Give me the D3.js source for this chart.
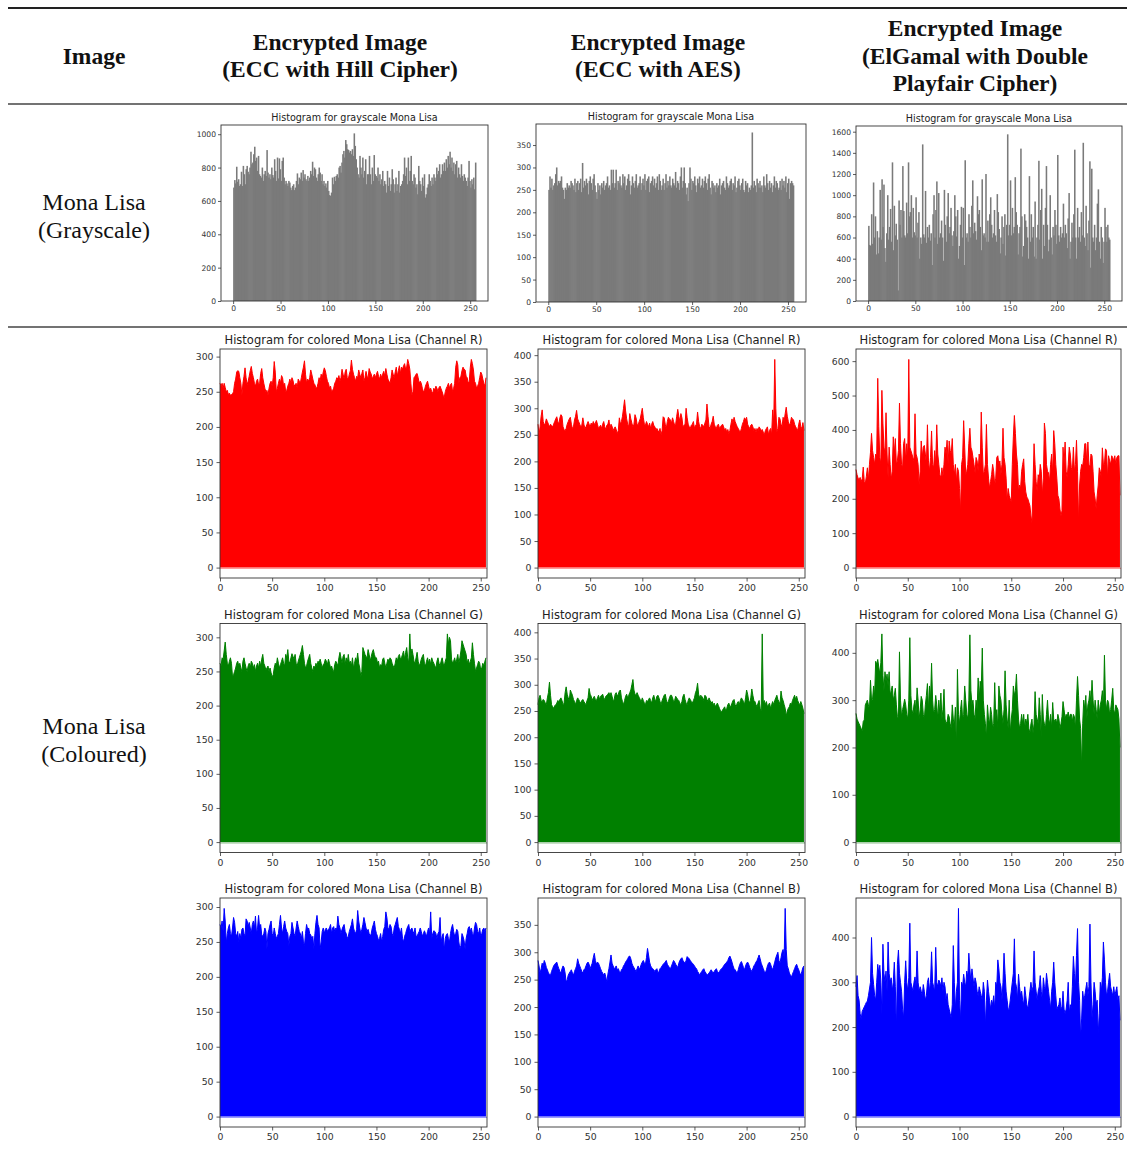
<!DOCTYPE html>
<html>
<head>
<meta charset="utf-8" />
<title>Histograms of the encrypted Mona Lisa</title>
<style>
  body { margin: 0; background: #fff; }
  #fig svg { display: block; }
  .hdr { font-family: "Liberation Serif", "Times New Roman", serif; font-weight: bold; font-size: 23.5px; fill: #111; }
  .lbl { font-family: "Liberation Serif", "Times New Roman", serif; font-size: 24px; fill: #111; }
  .ttl { font-family: "DejaVu Sans", sans-serif; fill: #222; }
  .tick text { font-family: "DejaVu Sans", sans-serif; fill: #333; }
  .tick line { stroke: #333; }
</style>
</head>
<body>
<div id="fig"></div>
<script src="https://cdnjs.cloudflare.com/ajax/libs/d3/7.8.5/d3.min.js"></script>
<script>
// ---- table text ----
var colHeaders = [
  ["Image"],
  ["Encrypted Image", "(ECC with Hill Cipher)"],
  ["Encrypted Image", "(ECC with AES)"],
  ["Encrypted Image", "(ElGamal with Double", "Playfair Cipher)"]
];
var rowLabels = [["Mona Lisa", "(Grayscale)"], ["Mona Lisa", "(Coloured)"]];
var grayTitle = "Histogram for grayscale Mona Lisa";
var colorTitles = ["Histogram for colored Mona Lisa (Channel R)",
                   "Histogram for colored Mona Lisa (Channel G)",
                   "Histogram for colored Mona Lisa (Channel B)"];
var xTicks = [0, 50, 100, 150, 200, 250];

// ---- grayscale histograms (256 bins) ----
var grayHill = [
  680,725,705,805,715,730,690,700,775,690,810,760,700,790,810,775,
  760,800,895,820,830,880,925,840,860,780,870,760,750,740,800,720,
  760,780,750,905,770,740,760,730,800,755,740,850,780,720,860,735,
  855,790,720,840,860,740,700,720,705,690,720,710,680,665,690,700,
  665,680,720,765,700,740,730,770,720,785,740,760,730,720,750,720,
  740,780,760,835,750,800,790,740,720,760,800,770,720,760,700,720,
  690,705,680,720,660,635,630,650,740,700,745,720,750,760,740,800,
  810,770,830,880,900,860,965,940,910,905,890,900,880,910,870,1005,
  930,850,800,760,740,870,800,760,860,740,780,850,700,760,760,870,
  760,700,800,720,875,760,750,740,800,720,760,700,730,780,690,720,
  700,650,780,690,740,660,700,790,730,650,700,740,660,700,780,650,
  690,700,720,760,860,750,800,700,860,720,780,870,720,700,760,740,
  680,700,640,810,720,700,660,740,690,760,620,640,680,700,760,720,
  690,740,700,760,740,720,800,760,780,820,740,760,820,780,830,780,
  850,800,870,820,895,800,860,780,830,760,820,840,740,800,760,740,
  820,750,720,760,740,720,690,740,840,720,680,730,700,740,670,830
];
var grayAes = [
  250,280,255,275,250,260,265,285,300,260,270,265,270,280,255,250,
  230,255,250,265,255,260,255,270,265,260,250,275,245,265,270,250,
  265,275,245,310,255,270,260,275,265,240,270,280,265,250,275,285,
  260,245,230,265,250,260,240,265,255,270,250,260,265,280,255,260,
  250,295,265,295,255,265,295,250,270,265,280,260,255,285,265,280,
  250,260,275,285,270,240,260,280,265,255,270,285,255,260,265,280,
  250,265,275,260,285,250,270,275,280,245,265,270,280,260,275,255,
  265,280,250,285,270,250,260,275,250,265,285,255,270,260,280,260,
  255,275,265,260,290,255,270,265,250,280,300,255,270,300,265,240,
  255,225,265,300,275,250,270,265,280,260,245,275,265,280,255,260,
  275,255,270,280,265,250,275,285,255,240,270,265,255,260,245,265,
  255,260,275,240,260,265,270,255,250,280,265,255,260,270,275,250,
  265,260,280,245,255,270,275,260,250,265,275,250,245,270,260,265,
  245,255,250,260,378,255,270,260,245,275,265,255,270,255,260,245,
  280,260,255,285,265,250,270,255,265,245,260,280,255,270,265,250,
  255,270,250,275,260,270,255,280,245,265,275,230,265,270,265,260
];
var grayElg = [
  710,530,520,820,540,1120,600,800,440,660,450,600,1050,580,1150,700,
  1100,500,370,640,1000,580,700,870,560,1310,480,900,620,730,580,100,
  950,720,860,600,1275,850,620,600,930,640,1310,800,840,1000,600,880,
  650,620,980,600,740,840,400,600,540,1480,630,600,1040,550,700,600,
  720,570,640,340,820,1000,600,860,1130,540,1020,600,640,760,600,380,
  1050,720,560,800,1020,640,700,880,620,520,660,1000,800,610,860,400,
  520,720,890,600,880,340,1330,600,640,560,820,700,600,900,1140,640,
  740,660,580,990,820,860,700,480,1150,620,640,600,1200,560,760,560,
  820,980,720,600,640,860,620,560,1010,840,680,450,600,800,540,700,
  820,430,720,1575,620,720,1140,620,880,640,700,1170,840,720,440,640,
  700,1440,800,420,520,820,760,700,600,400,1180,560,820,600,700,420,
  940,400,600,720,1325,580,860,1060,400,720,520,880,1275,720,470,580,
  1000,600,440,700,620,860,720,540,1380,620,560,700,600,640,920,600,
  720,640,500,780,1020,400,560,740,600,820,1430,600,400,880,600,700,
  560,840,620,1495,600,520,900,640,480,760,1320,315,1250,600,560,720,
  480,600,920,1055,560,400,700,600,360,560,880,700,560,720,600,580
];

// ---- colour channel histograms (256 values each) ----
var redHill = [
  262,258,262,255,262,256,250,252,246,248,245,246,247,250,262,268,
  278,280,279,270,262,245,262,272,284,270,260,265,272,280,286,276,
  270,262,258,265,268,260,262,276,283,270,262,255,250,252,245,255,
  262,265,258,270,293,278,250,255,262,268,262,273,270,258,262,250,
  252,258,262,268,262,270,266,258,260,262,255,268,265,262,270,278,
  285,294,275,262,268,265,270,281,275,268,262,260,255,256,262,270,
  265,275,270,278,284,280,272,265,262,255,258,250,252,255,262,265,
  270,268,273,265,270,282,275,268,278,282,270,268,275,280,295,282,
  275,270,265,272,270,281,275,270,276,281,265,270,279,272,270,283,
  278,275,268,272,275,270,275,279,272,268,275,270,275,279,272,283,
  275,268,265,262,270,281,275,270,278,285,272,280,287,276,285,282,
  287,290,282,285,296,290,282,262,245,250,270,272,275,276,270,262,
  265,262,255,250,252,258,262,265,258,252,255,250,248,255,252,258,
  255,250,256,258,254,250,245,242,250,255,258,262,255,260,262,250,
  255,262,285,294,288,262,270,272,280,285,282,281,272,270,262,265,
  285,296,290,281,265,262,255,258,262,270,278,275,268,262,258,270
];
var greenHill = [
  262,258,270,268,280,293,275,262,258,265,270,262,242,245,250,255,
  262,265,258,262,255,250,265,270,262,255,250,258,262,255,265,262,
  255,260,250,258,262,255,265,258,268,275,262,258,252,255,258,250,
  255,248,242,245,255,262,258,270,262,255,260,265,270,262,258,275,
  270,282,265,262,270,276,272,268,275,262,258,265,270,275,280,288,
  275,262,255,258,265,270,275,262,255,250,258,255,262,258,265,262,
  268,262,255,260,262,268,265,260,268,262,255,258,252,250,260,265,
  262,258,270,278,270,262,272,275,260,270,262,275,262,265,258,270,
  255,262,270,265,277,262,255,242,250,285,280,275,272,270,282,275,
  265,272,278,282,275,270,270,262,265,255,260,258,268,270,262,255,
  262,268,265,270,268,262,258,255,262,270,265,272,275,268,270,275,
  280,268,278,285,270,262,305,270,283,275,265,262,270,278,265,258,
  262,268,272,275,262,258,265,270,262,268,260,270,265,262,258,255,
  265,270,262,258,265,270,262,258,265,270,305,290,300,295,268,262,
  265,270,262,268,275,262,270,280,295,290,285,280,275,262,268,260,
  265,270,292,275,262,250,255,260,265,262,252,255,262,258,265,270
];
var blueHill = [
  275,270,280,265,298,280,248,262,270,275,262,258,270,285,278,262,
  258,265,250,262,255,268,270,262,258,283,280,272,278,270,262,275,
  280,270,287,262,270,288,270,275,260,258,262,270,265,240,262,268,
  275,280,262,258,270,262,255,258,262,275,288,270,262,272,280,270,
  265,262,245,258,262,278,270,262,258,270,280,272,265,262,255,265,
  250,245,262,275,268,270,262,260,255,258,240,262,278,288,275,270,
  240,250,265,270,262,268,270,265,268,270,275,262,270,272,265,270,
  268,287,275,270,262,268,272,275,265,262,255,258,265,270,275,283,
  270,265,262,268,295,280,270,262,268,275,285,278,270,265,268,262,
  258,262,270,275,280,268,262,258,252,255,262,250,258,268,272,293,
  285,270,268,275,272,262,258,270,275,280,285,272,268,262,270,255,
  250,258,262,268,272,275,265,268,270,265,262,270,258,258,262,265,
  270,265,258,262,266,262,258,265,270,262,293,255,262,266,265,262,
  255,262,265,285,250,258,262,238,255,260,262,255,250,262,270,275,
  265,258,262,268,265,250,240,245,262,258,252,240,255,262,270,272,
  265,270,262,258,270,278,275,265,262,270,258,262,268,270,265,270
];
var redAes = [
  270,250,265,285,297,275,268,272,280,275,270,265,270,267,265,270,
  275,280,284,275,270,282,288,285,265,260,258,262,270,275,280,283,
  270,262,265,278,285,296,280,275,270,265,268,282,270,262,265,270,
  275,270,265,272,268,275,270,272,277,270,262,265,268,262,270,275,
  265,260,268,270,278,262,270,266,258,262,265,260,252,258,282,270,
  275,285,300,316,295,280,270,265,290,280,272,265,270,288,282,270,
  268,275,280,290,300,282,270,268,275,270,265,272,262,270,275,268,
  265,260,262,258,255,262,250,258,284,282,270,262,275,283,280,278,
  272,282,275,268,270,285,298,285,275,290,282,265,268,270,300,282,
  270,265,262,268,270,275,262,268,270,293,275,265,262,270,268,265,
  272,278,308,285,265,262,270,275,285,270,265,262,268,270,262,265,
  268,270,265,258,262,255,260,252,258,270,280,272,283,275,270,265,
  262,258,255,262,270,275,282,278,283,270,265,262,268,270,265,258,
  262,255,262,258,265,262,258,260,255,250,258,262,265,250,258,262,
  250,297,270,392,300,255,262,283,280,270,265,283,275,290,302,285,
  275,268,272,283,280,278,270,265,262,258,270,278,265,262,273,258
];
var greenAes = [
  262,275,280,270,268,272,270,265,262,275,285,305,280,262,258,255,
  260,262,265,270,268,272,275,270,262,265,285,296,282,275,270,290,
  285,280,272,268,262,270,275,272,268,265,270,272,268,265,262,270,
  275,293,282,278,270,275,278,272,270,275,280,272,278,280,282,275,
  272,278,280,282,285,280,285,278,270,272,282,285,278,282,288,290,
  275,268,262,270,278,282,275,280,285,290,300,310,290,282,280,285,
  280,276,272,268,275,270,265,262,270,268,272,275,270,265,275,280,
  272,270,278,280,275,268,262,270,275,280,282,272,265,268,275,280,
  280,275,268,270,278,275,272,270,265,262,268,278,282,272,265,262,
  270,275,272,268,265,270,275,285,290,303,282,275,280,278,275,270,
  280,278,272,268,275,270,265,268,262,265,258,262,265,260,255,250,
  248,252,255,258,250,255,262,265,258,260,265,270,272,262,258,265,
  268,262,270,275,272,268,262,275,290,282,270,265,275,292,280,270,
  268,262,258,265,270,255,250,397,265,270,262,268,258,262,265,255,
  262,268,262,270,275,280,272,268,262,288,275,270,262,255,240,250,
  255,258,265,262,270,275,280,272,278,270,265,262,268,262,255,245
];
var blueAes = [
  285,275,262,270,280,275,285,280,272,268,262,260,258,265,270,275,
  278,280,282,275,270,265,262,270,275,272,262,245,250,258,262,265,
  268,262,258,265,270,275,288,280,275,270,265,262,268,270,275,280,
  282,278,270,275,280,290,298,285,278,282,280,275,270,265,262,258,
  262,255,245,260,270,282,295,280,275,270,272,275,268,270,265,262,
  268,270,275,278,282,285,288,292,293,288,280,275,272,268,265,270,
  275,270,272,278,282,285,280,278,290,307,295,282,275,272,270,268,
  265,268,270,262,265,270,272,275,278,280,282,285,278,275,272,270,
  275,280,285,282,278,275,272,280,285,288,290,285,282,280,285,292,
  290,288,285,282,280,278,275,272,270,265,262,258,262,265,268,270,
  265,262,258,260,262,265,268,265,262,265,268,270,265,262,265,268,
  270,272,275,278,280,282,285,290,293,288,282,275,270,268,265,262,
  268,275,280,283,278,272,268,275,280,282,278,272,268,265,270,275,
  278,282,285,290,295,288,280,275,270,265,262,268,275,280,282,278,
  272,268,275,282,290,295,300,285,280,290,300,305,290,380,305,275,
  270,262,258,255,260,265,270,275,278,272,268,262,258,265,272,275
];
var redElg = [
  285,270,260,255,262,250,258,292,250,245,265,290,255,300,335,390,
  340,320,300,330,325,550,410,320,300,515,420,350,330,450,330,260,
  350,300,255,280,380,330,375,300,310,340,478,360,300,290,360,375,
  310,360,320,605,350,340,330,320,310,447,330,320,300,240,280,368,
  320,350,355,330,300,415,310,280,320,397,300,290,340,300,415,330,
  300,270,260,290,265,300,350,330,370,300,368,340,330,375,300,270,
  300,250,290,280,230,160,300,320,427,350,270,280,300,360,405,350,
  340,320,300,275,320,310,280,330,300,452,350,270,280,300,416,300,
  260,230,250,270,300,280,240,260,320,325,300,310,270,300,405,320,
  300,260,195,230,210,200,190,300,380,442,390,330,300,220,240,230,
  280,300,316,250,220,205,200,190,180,150,130,240,360,300,250,220,
  270,255,300,280,210,260,420,390,300,280,275,250,300,330,270,398,
  360,300,260,210,200,170,150,165,350,300,365,280,260,300,350,330,
  290,280,350,280,300,370,280,130,240,280,300,295,320,360,360,300,
  365,300,290,330,325,280,220,200,170,210,240,290,280,260,348,300,
  300,345,340,260,325,310,300,325,320,310,325,300,320,325,325,210
];
var greenElg = [
  272,260,255,250,245,240,235,255,258,290,295,300,290,280,342,300,
  302,330,310,382,375,386,370,355,380,440,352,320,360,340,355,330,
  360,310,320,330,300,310,325,290,265,260,402,300,265,280,290,302,
  290,270,260,300,432,310,280,270,290,300,270,326,300,260,280,308,
  300,270,260,290,310,335,280,330,300,378,300,270,280,310,290,260,
  300,270,315,260,280,323,260,250,255,270,265,250,240,290,260,245,
  285,195,365,270,250,280,300,260,270,330,300,270,260,300,438,320,
  290,300,270,260,300,280,347,300,340,320,410,300,270,250,220,290,
  260,250,285,270,240,250,337,260,280,240,330,310,300,270,250,280,
  362,290,260,240,300,230,260,280,330,310,320,355,300,260,240,250,
  270,250,270,240,260,250,270,240,230,250,260,230,250,318,270,260,
  250,305,270,220,312,260,250,240,270,300,260,250,270,240,295,260,
  255,260,250,270,260,240,250,265,297,280,260,270,265,275,260,270,
  270,255,270,265,240,300,350,310,260,240,155,250,300,280,310,260,
  290,300,320,290,342,300,270,300,280,260,300,270,290,300,320,280,
  395,300,280,300,295,270,280,300,325,280,270,290,285,280,260,200
];
var blueElg = [
  290,315,270,260,230,218,235,240,245,250,255,258,270,285,300,400,
  320,295,270,260,300,340,320,338,300,228,385,320,300,325,280,390,
  320,300,310,280,300,345,290,190,340,372,320,300,280,240,220,300,
  348,300,280,310,432,300,290,280,300,312,290,370,300,280,290,280,
  270,295,280,260,270,300,310,280,300,368,300,290,280,378,300,290,
  305,300,290,310,280,300,290,260,275,250,240,230,220,250,382,300,
  240,280,300,465,260,215,300,290,318,300,290,325,310,365,330,300,
  330,310,290,310,300,280,270,290,280,270,260,300,280,203,260,305,
  280,260,240,260,250,270,240,300,290,350,330,300,290,260,300,365,
  320,280,260,240,240,260,280,300,320,397,300,290,260,318,290,270,
  280,260,250,290,270,250,240,260,280,300,280,290,370,300,280,260,
  280,290,315,280,260,310,290,280,320,300,280,260,240,280,300,345,
  300,270,240,245,250,265,240,245,280,240,230,240,260,300,230,250,
  240,290,358,320,290,360,420,300,260,175,220,280,260,270,285,300,
  270,290,430,300,220,250,300,280,250,260,185,230,300,280,310,390,
  350,300,270,280,300,320,290,280,270,290,270,280,290,260,270,215
];

// y tick values per panel
var grayYTicks = [d3.range(0, 1001, 200), d3.range(0, 351, 50), d3.range(0, 1601, 200)];
var colorYTicks = [
  [d3.range(0, 301, 50), d3.range(0, 401, 50), d3.range(0, 601, 100)],
  [d3.range(0, 301, 50), d3.range(0, 401, 50), d3.range(0, 401, 100)],
  [d3.range(0, 301, 50), d3.range(0, 351, 50), d3.range(0, 401, 100)]
];

var W = 1127, H = 1149;
var svg = d3.select("#fig").append("svg").attr("width", W).attr("height", H);

var colX = [94, 340, 658, 975];
var grayBoxes = [
  {x0: 221, x1: 488, y0: 125, y1: 301},
  {x0: 536, x1: 806, y0: 124, y1: 302},
  {x0: 856, x1: 1122, y0: 126, y1: 301}
];
var colorLeft = [[220, 487], [538, 805], [856, 1121]];
var rowTop = [349, 623.5, 898], rowH = 229;
var channelFill = ["#ff0000", "#008000", "#0000ff"];
var channelBase = ["#ff9a9a", "#8fc08f", "#9a9aff"];

main();

function main() {
  drawTable();
  var grays = [grayHill, grayAes, grayElg];
  grays.forEach(function(d, i) { drawGray(d, grayBoxes[i], grayYTicks[i]); });
  var colored = [[redHill, redAes, redElg], [greenHill, greenAes, greenElg], [blueHill, blueAes, blueElg]];
  colored.forEach(function(row, r) {
    row.forEach(function(d, c) {
      var box = {x0: colorLeft[c][0], x1: colorLeft[c][1], y0: rowTop[r], y1: rowTop[r] + rowH};
      drawColor(d, box, colorYTicks[r][c], channelFill[r], channelBase[r], colorTitles[r]);
    });
  });
}

function drawTable() {
  svg.append("line").attr("x1", 8).attr("x2", W).attr("y1", 8).attr("y2", 8)
    .attr("stroke", "#222").attr("stroke-width", 2);
  [104, 327].forEach(function(y) {
    svg.append("line").attr("x1", 8).attr("x2", W).attr("y1", y).attr("y2", y)
      .attr("stroke", "#444").attr("stroke-width", 1.3);
  });
  var baselines = [[64], [50, 77], [50, 77], [36, 63.5, 91]];
  colHeaders.forEach(function(lines, i) {
    lines.forEach(function(t, j) {
      svg.append("text").attr("class", "hdr").attr("x", colX[i]).attr("y", baselines[i][j])
        .attr("text-anchor", "middle").text(t);
    });
  });
  var rowBase = [[210, 238], [734, 762]];
  rowLabels.forEach(function(lines, i) {
    lines.forEach(function(t, j) {
      svg.append("text").attr("class", "lbl").attr("x", colX[0]).attr("y", rowBase[i][j])
        .attr("text-anchor", "middle").text(t);
    });
  });
}

function drawGray(data, box, yTicks) {
  var g = svg.append("g");
  var x = d3.scaleLinear().domain([-12.8, 268.8]).range([box.x0, box.x1]);
  var y = d3.scaleLinear().domain([0, d3.max(data) * 1.05]).range([box.y1, box.y0]);
  var bw = x(1) - x(0);
  // bars overlap a little so no seams show between neighbours
  g.selectAll("rect.bar").data(data).enter().append("rect")
    .attr("class", "bar")
    .attr("x", function(d, i) { return x(i); })
    .attr("width", bw + 0.6)
    .attr("y", function(d) { return y(d); })
    .attr("height", function(d) { return y(0) - y(d); })
    .attr("fill", "#7a7a7a");
  axes(g, x, y, box, yTicks, 7.6, 3, 2);
  g.append("text").attr("class", "ttl").attr("x", (box.x0 + box.x1) / 2).attr("y", box.y0 - 4.5)
    .attr("text-anchor", "middle").attr("font-size", "9.6px").text(grayTitle);
}

function drawColor(data, box, yTicks, fill, base, title) {
  var g = svg.append("g");
  var max = d3.max(data);
  var x = d3.scaleLinear().domain([0, 256]).range([box.x0, box.x1]);
  var y = d3.scaleLinear().domain([-0.05 * max, 1.05 * max]).range([box.y1, box.y0]);
  var area = d3.area()
    .x(function(d, i) { return x(i); })
    .y0(y(0))
    .y1(function(d) { return y(d); });
  var line = d3.line()
    .x(function(d, i) { return x(i); })
    .y(function(d) { return y(d); });
  g.append("line").attr("x1", box.x0).attr("x2", box.x1).attr("y1", y(0) + 0.8).attr("y2", y(0) + 0.8)
    .attr("stroke", base).attr("stroke-width", 1.2);
  g.append("path").datum(data).attr("d", area).attr("fill", fill);
  g.append("path").datum(data).attr("d", line).attr("fill", "none")
    .attr("stroke", fill).attr("stroke-width", 1);
  axes(g, x, y, box, yTicks, 9.3, 3.5, 3);
  g.append("text").attr("class", "ttl").attr("x", (box.x0 + box.x1) / 2).attr("y", box.y0 - 5)
    .attr("text-anchor", "middle").attr("font-size", "11.5px").text(title);
}

function axes(g, x, y, box, yTicks, fs, ts, tp) {
  var xa = g.append("g").attr("transform", "translate(0," + box.y1 + ")")
    .call(d3.axisBottom(x).tickValues(xTicks).tickSize(ts).tickPadding(tp));
  var ya = g.append("g").attr("transform", "translate(" + box.x0 + ",0)")
    .call(d3.axisLeft(y).tickValues(yTicks).tickFormat(d3.format("d")).tickSize(ts).tickPadding(tp));
  [xa, ya].forEach(function(a) {
    a.select(".domain").remove();
    a.selectAll("text").attr("font-size", fs + "px");
    a.selectAll("line").attr("stroke-width", 0.8);
  });
  g.append("rect").attr("x", box.x0).attr("y", box.y0)
    .attr("width", box.x1 - box.x0).attr("height", box.y1 - box.y0)
    .attr("fill", "none").attr("stroke", "#333").attr("stroke-width", 0.9);
}
</script>
</body>
</html>
